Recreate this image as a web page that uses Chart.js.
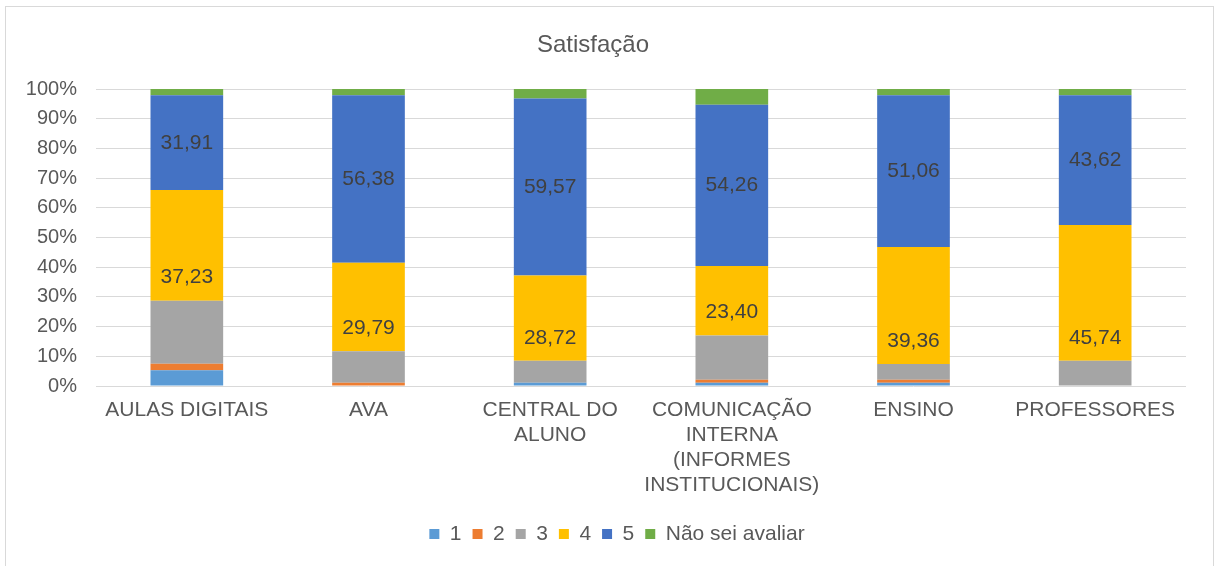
<!DOCTYPE html>
<html>
<head>
<meta charset="utf-8">
<script src="https://cdn.jsdelivr.net/npm/chart.js@4.4.0/dist/chart.umd.min.js"></script>
<style>
  html, body { margin: 0; padding: 0; background: #fff; }
  #wrap { position: relative; width: 1216px; height: 566px; }
</style>
</head>
<body>
<div id="wrap"><canvas id="myChart" width="1216" height="566"></canvas></div>
<script>
const categories = [
    "AULAS DIGITAIS",
    "AVA",
    ["CENTRAL DO", "ALUNO"],
    ["COMUNICAÇÃO", "INTERNA", "(INFORMES", "INSTITUCIONAIS)"],
    "ENSINO",
    "PROFESSORES"
];
const seriesNames = ["1", "2", "3", "4", "5", "Não sei avaliar"];
const s1 = [5.32, 0, 1.06, 1.06, 1.06, 0];
const s2 = [2.13, 1.06, 0, 1.06, 1.06, 0];
const s3 = [21.28, 10.64, 7.45, 14.89, 5.32, 8.51];
const s4 = [37.23, 29.79, 28.72, 23.40, 39.36, 45.74];
const s5 = [31.91, 56.38, 59.57, 54.26, 51.06, 43.62];
const sNs = [2.13, 2.13, 3.19, 5.32, 2.13, 2.13];
const yTicks = [0, 10, 20, 30, 40, 50, 60, 70, 80, 90, 100];

const colors = ["#5B9BD5", "#ED7D31", "#A5A5A5", "#FFC000", "#4472C4", "#70AD47"];
const textColor = "#595959";
const font = "'Liberation Sans', Arial, sans-serif";

// outer frame like the office chart box, legend nudged to the frame centre
const framePlugin = {
    id: "frame",
    afterLayout(chart) {
        chart.legend.left += 24;
        chart.legend.right += 24;
    },
    beforeDraw(chart) {
        const c = chart.ctx;
        c.save();
        c.strokeStyle = "#d9d9d9";
        c.lineWidth = 1;
        c.strokeRect(5.5, 6.5, 1208, 600);
        c.restore();
    }
};

// value labels: "4" at inside base, "5" centered
const labelPlugin = {
    id: "valueLabels",
    afterDatasetsDraw(chart) {
        const c = chart.ctx;
        c.save();
        c.font = "21px " + font;
        c.fillStyle = "#404040";
        c.textAlign = "center";
        c.textBaseline = "middle";
        [3, 4].forEach(function(di) {
            const meta = chart.getDatasetMeta(di);
            meta.data.forEach(function(bar, i) {
                const v = chart.data.datasets[di].data[i];
                const y = di === 3 ? bar.base - 23 : (bar.y + bar.base) / 2;
                c.fillText(v.toFixed(2).replace(".", ","), bar.x, y);
            });
        });
        c.restore();
    }
};

function initChart() {
    const ctx = document.getElementById("myChart").getContext("2d");
    const all = [s1, s2, s3, s4, s5, sNs];
    new Chart(ctx, {
        type: "bar",
        data: {
            labels: categories,
            datasets: all.map(function(d, i) {
                return {
                    label: seriesNames[i],
                    data: d,
                    backgroundColor: colors[i],
                    borderWidth: 0,
                    barPercentage: 0.4,
                    categoryPercentage: 1.0
                };
            })
        },
        options: {
            responsive: false,
            animation: false,
            layout: { padding: { left: 0, right: 30, top: 0, bottom: 11.5 } },
            scales: {
                x: {
                    stacked: true,
                    grid: { display: false, drawTicks: false },
                    border: { display: false },
                    ticks: {
                        color: textColor,
                        font: { family: font, size: 21, lineHeight: 1.2 },
                        padding: 11.5,
                        maxRotation: 0,
                        autoSkip: false
                    },
                    afterFit(scale) { scale.height = 126.5; }
                },
                y: {
                    stacked: true,
                    min: 0,
                    max: 100,
                    afterBuildTicks(scale) {
                        scale.ticks = yTicks.map(function(v) { return { value: v }; });
                    },
                    grid: { color: "#d9d9d9", lineWidth: 1, drawTicks: false },
                    border: { display: false },
                    ticks: {
                        color: textColor,
                        font: { family: font, size: 20 },
                        padding: 19,
                        callback: function(v) { return v + "%"; }
                    },
                    afterFit(scale) { scale.width = 96; }
                }
            },
            plugins: {
                title: {
                    display: true,
                    text: "Satisfação",
                    color: textColor,
                    font: { family: font, size: 24, weight: "normal" },
                    padding: { top: 30.6, bottom: 29.6 }
                },
                legend: {
                    position: "bottom",
                    labels: {
                        color: textColor,
                        font: { family: font, size: 21 },
                        boxWidth: 10,
                        boxHeight: 10,
                        padding: 11
                    }
                },
                tooltip: { enabled: false }
            }
        },
        plugins: [framePlugin, labelPlugin]
    });
}

document.addEventListener("DOMContentLoaded", function() {
    initChart();
});
</script>
</body>
</html>
